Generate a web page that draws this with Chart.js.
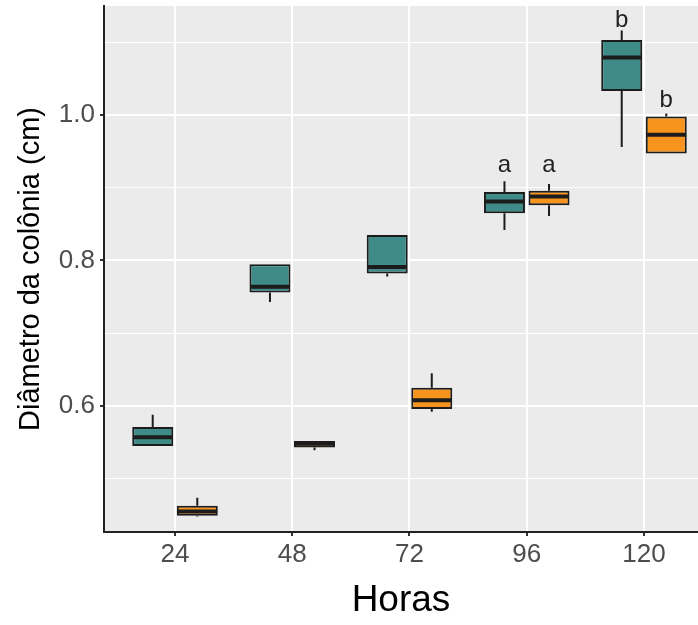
<!DOCTYPE html>
<html><head><meta charset="utf-8">
<script src="https://cdn.jsdelivr.net/npm/chart.js@4.4.1/dist/chart.umd.min.js"></script>
<style>html,body{margin:0;padding:0;background:#fff;}#wrap{width:698px;height:625px;}</style>
</head><body><div id="wrap"><canvas id="c" width="698" height="625"></canvas></div>
<script>
// ---- data ----
const hours = ['24', '48', '72', '96', '120'];

const tealMin = [0.545, 0.743, 0.778, 0.842, 0.956];
const tealQ1  = [0.545, 0.756, 0.782, 0.865, 1.033];
const tealMed = [0.557, 0.764, 0.791, 0.881, 1.079];
const tealQ3  = [0.571, 0.795, 0.835, 0.894, 1.103];
const tealMax = [0.588, 0.795, 0.835, 0.909, 1.116];

const orangeMin = [0.448, 0.539, 0.592, 0.861, 0.947];
const orangeQ1  = [0.449, 0.543, 0.596, 0.876, 0.947];
const orangeMed = [0.455, 0.548, 0.608, 0.888, 0.973];
const orangeQ3  = [0.463, 0.552, 0.625, 0.896, 0.998];
const orangeMax = [0.474, 0.552, 0.645, 0.905, 1.002];

const tealLetters   = ['', '', '', 'a', 'b'];
const tealLetterY   = [null, null, null, 0.9216, 1.1214];
const orangeLetters = ['', '', '', 'a', 'b'];
const orangeLetterY = [null, null, null, 0.9216, 1.0106];

const yMajorTicks = [0.6, 0.8, 1.0];
const yMinorTicks = [0.5, 0.7, 0.9, 1.1];

// ---- styling constants ----
const TEAL = '#3E8B88';
const ORANGE = '#F7941D';
const EDGE = '#1c1c1c';
const GROUP = 0.76;          // categoryPercentage
const BAR = 0.92;            // barPercentage
const OFF = GROUP / 4;       // dodge offset in category units
const HALF = GROUP / 4 * BAR - 0.006; // half box width for median lines
const FONT = "'Liberation Sans', Arial, Helvetica, sans-serif";

const xs = hours.map((h, i) => i + 1);

function boxData(q1, q3) { return xs.map((x, i) => ({ x: x, y: [q1[i], q3[i]] })); }
function whiskerData(off, mn, q1, q3, mx) {
  const d = [];
  xs.forEach((x, i) => {
    const cx = x + off;
    d.push({ x: cx, y: mx[i] }, { x: cx, y: q3[i] }, { x: cx, y: null });
    d.push({ x: cx, y: q1[i] }, { x: cx, y: mn[i] }, { x: cx, y: null });
  });
  return d;
}
function medianData(off, med) {
  const d = [];
  xs.forEach((x, i) => {
    const cx = x + off;
    d.push({ x: cx - HALF, y: med[i] }, { x: cx + HALF, y: med[i] }, { x: cx, y: null });
  });
  return d;
}

const panelBg = {
  id: 'panelBg',
  beforeDraw(chart) {
    const { ctx, chartArea: a } = chart;
    ctx.save();
    ctx.fillStyle = '#EBEBEB';
    ctx.fillRect(a.left, a.top, a.right - a.left, a.bottom - a.top);
    ctx.restore();
  }
};

const letterPlugin = {
  id: 'letters',
  afterDatasetsDraw(chart) {
    const { ctx, scales } = chart;
    ctx.save();
    ctx.fillStyle = '#222';
    ctx.font = '24px ' + FONT;
    ctx.textAlign = 'center';
    ctx.textBaseline = 'alphabetic';
    const draw = (letters, ys, off) => {
      letters.forEach((t, i) => {
        if (!t) return;
        ctx.fillText(t, scales.x.getPixelForValue(xs[i] + off), scales.y.getPixelForValue(ys[i]));
      });
    };
    draw(tealLetters, tealLetterY, -OFF);
    draw(orangeLetters, orangeLetterY, OFF);
    ctx.restore();
  }
};

const lineCommon = { type: 'line', pointRadius: 0, pointHoverRadius: 0, fill: false, spanGaps: false, tension: 0, borderCapStyle: 'butt' };

new Chart(document.getElementById('c'), {
  type: 'bar',
  data: {
    datasets: [
      { label: 'teal', data: boxData(tealQ1, tealQ3), backgroundColor: TEAL, borderColor: EDGE, borderWidth: 2, borderSkipped: false, order: 2 },
      { label: 'orange', data: boxData(orangeQ1, orangeQ3), backgroundColor: ORANGE, borderColor: EDGE, borderWidth: 2, borderSkipped: false, order: 2 },
      Object.assign({ label: 'tw', data: whiskerData(-OFF, tealMin, tealQ1, tealQ3, tealMax), borderColor: EDGE, borderWidth: 2, order: 3 }, lineCommon),
      Object.assign({ label: 'ow', data: whiskerData(OFF, orangeMin, orangeQ1, orangeQ3, orangeMax), borderColor: EDGE, borderWidth: 2, order: 3 }, lineCommon),
      Object.assign({ label: 'tm', data: medianData(-OFF, tealMed), borderColor: EDGE, borderWidth: 4, order: 1 }, lineCommon),
      Object.assign({ label: 'om', data: medianData(OFF, orangeMed), borderColor: EDGE, borderWidth: 4, order: 1 }, lineCommon)
    ]
  },
  options: {
    responsive: false,
    animation: false,
    events: [],
    categoryPercentage: GROUP,
    barPercentage: BAR,
    layout: { padding: { top: 6, left: 0, right: 0, bottom: 0 } },
    plugins: { legend: { display: false }, tooltip: { enabled: false } },
    scales: {
      x: {
        type: 'linear',
        offset: false,
        min: 0.3945,
        max: 5.4606,
        afterBuildTicks(scale) { scale.ticks = xs.map(v => ({ value: v })); },
        afterFit(scale) { scale.height = 93; scale.paddingLeft = 0; scale.paddingRight = 0; },
        ticks: {
          callback: (v, i) => hours[i],
          color: '#4D4D4D',
          font: { family: FONT, size: 26 },
          padding: 3,
          maxRotation: 0,
          autoSkip: false
        },
        grid: { offset: false, color: '#FFFFFF', lineWidth: 2, tickLength: 4, tickColor: '#333333', tickWidth: 2 },
        border: { display: true, color: '#222222', width: 2 },
        title: { display: true, text: 'Horas', color: '#000', font: { family: FONT, size: 37, lineHeight: 1.2 }, padding: { top: 0, bottom: 2 } }
      },
      y: {
        type: 'linear',
        min: 0.4268,
        max: 1.1498,
        afterBuildTicks(scale) {
          scale.ticks = yMinorTicks.concat(yMajorTicks).sort((a, b) => a - b).map(v => ({ value: v }));
        },
        afterFit(scale) { scale.width = 104; scale.paddingTop = 0; scale.paddingBottom = 0; },
        ticks: {
          callback: (v) => yMajorTicks.includes(v) ? v.toFixed(1) : '',
          color: '#4D4D4D',
          font: { family: FONT, size: 26 },
          padding: 5,
          autoSkip: false
        },
        grid: {
          color: '#FFFFFF',
          lineWidth: (c) => (c.tick && yMajorTicks.includes(c.tick.value)) ? 2 : 1,
          tickLength: 4,
          tickColor: (c) => (c.tick && yMajorTicks.includes(c.tick.value)) ? '#333333' : 'rgba(0,0,0,0)',
          tickWidth: 2
        },
        border: { display: true, color: '#222222', width: 2 },
        title: { display: true, text: 'Diâmetro da colônia (cm)', color: '#000', font: { family: FONT, size: 29, lineHeight: 1.2 }, padding: { top: 14, bottom: 0 } }
      }
    }
  },
  plugins: [panelBg, letterPlugin]
});
</script>
</body></html>
